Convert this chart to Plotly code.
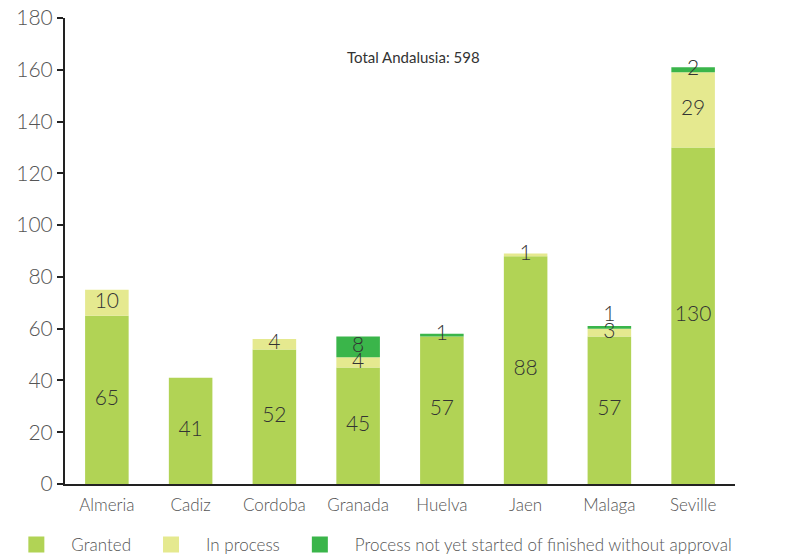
import plotly.graph_objects as go

categories = ["Almeria", "Cadiz", "Cordoba", "Granada", "Huelva", "Jaen", "Malaga", "Seville"]
granted = [65, 41, 52, 45, 57, 88, 57, 130]
in_process = [10, 0, 4, 4, 0, 1, 3, 29]
not_started = [0, 0, 0, 8, 1, 0, 1, 2]
series_names = ["Granted", "In process", "Process not yet started of finished without approval"]
colors = ["#B1D355", "#E5E98F", "#3AB54A"]
y_ticks = list(range(0, 181, 20))
total_label = "Total Andalusia: " + str(sum(granted) + sum(in_process) + sum(not_started))

FONT = "Lato"
fig = go.Figure()
series = [granted, in_process, not_started]
base = [0] * len(categories)
for name, vals, col in zip(series_names, series, colors):
    fig.add_trace(go.Bar(x=categories, y=vals, base=base, name=name, marker=dict(color=col, line=dict(width=0)),
                         width=0.52, showlegend=False, hoverinfo="skip"))
    xs, ys, ts, pos = [], [], [], []
    for i, v in enumerate(vals):
        if v > 0:
            xs.append(categories[i])
            if name == series_names[2] and categories[i] == "Malaga":
                ys.append(base[i] + v)
                pos.append("top center")
            else:
                ys.append(base[i] + v / 2)
                pos.append("middle center")
            ts.append(str(v))
    fig.add_trace(go.Scatter(x=xs, y=ys, text=ts, mode="text", textposition=pos,
                             textfont=dict(family=FONT, size=21, color="#333333", weight=300),
                             showlegend=False, hoverinfo="skip"))
    base = [b + v for b, v in zip(base, vals)]

for name, col in zip(series_names, colors):
    fig.add_trace(go.Scatter(x=[None], y=[None], mode="markers", name=name,
                             marker=dict(symbol="square", size=16, color=col)))

fig.add_annotation(text=total_label, x=0.52, y=165, xref="paper", yref="y", showarrow=False,
                   font=dict(family=FONT, size=15, color="#333333", weight=400))

fig.update_layout(
    width=786, height=559,
    margin=dict(l=65, r=51, t=18, b=75, autoexpand=False),
    paper_bgcolor="white", plot_bgcolor="white",
    barmode="overlay",
    font=dict(family=FONT, color="#555555", weight=300),
    legend=dict(orientation="h", x=-0.095, xanchor="left", y=-0.131, yanchor="middle",
                font=dict(family=FONT, size=17, color="#555555", weight=300),
                itemsizing="trace", itemwidth=60, traceorder="normal"),
)
fig.update_xaxes(range=[-0.5, 7.5], showline=True, linecolor="#222222", linewidth=2, ticks="",
                 ticklabelstandoff=5,
                 tickfont=dict(family=FONT, size=17, color="#555555", weight=300), showgrid=False)
fig.update_yaxes(range=[0, 180], tickvals=y_ticks, showline=True, linecolor="#222222", linewidth=2,
                 ticks="outside", ticklen=6, tickcolor="#222222", tickwidth=2,
                 tickfont=dict(family=FONT, size=21, color="#555555", weight=300), showgrid=False, zeroline=False)

fig.write_html("out.html", config={"displayModeBar": False},
               post_script="document.body.style.margin='0';")
